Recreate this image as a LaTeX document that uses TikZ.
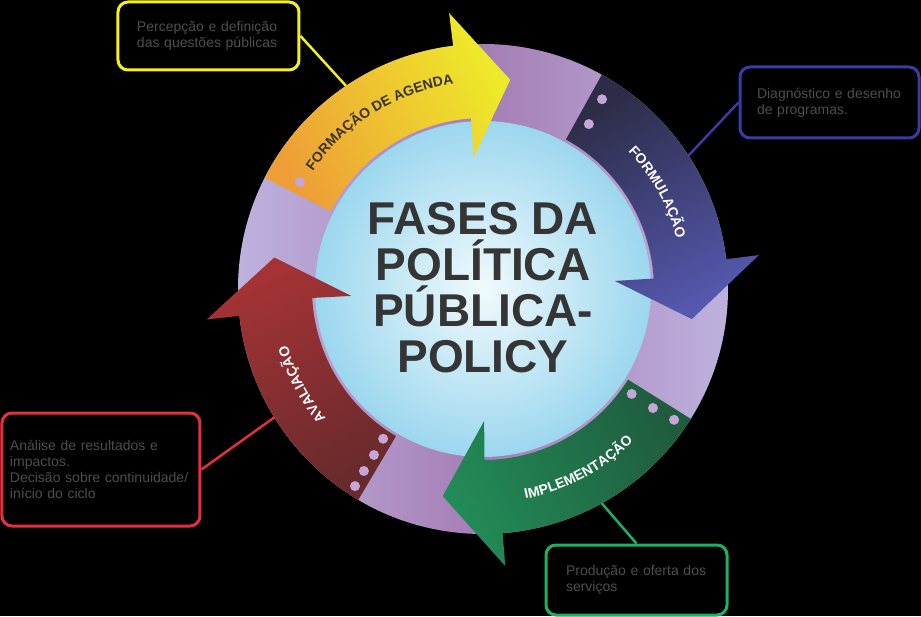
\documentclass[tikz,border=0pt]{standalone}
\usepackage{fontspec}
\setmainfont{Liberation Sans}
\usepackage{xcolor}
\usepackage{tikz}
\usetikzlibrary{shapes, arrows.meta, positioning, calc, decorations.text}
\definecolor{RingPurple}{HTML}{A57DB5}
\definecolor{RingLilac}{HTML}{BEB2DD}
\definecolor{SkyCore}{HTML}{F0FAFD}
\definecolor{SkyRim}{HTML}{9CD7EE}
\definecolor{AgendaOrange}{HTML}{EE9E36}
\definecolor{AgendaYellow}{HTML}{EEEA2A}
\definecolor{FormNavy}{HTML}{2C2C46}
\definecolor{FormBlue}{HTML}{5558AE}
\definecolor{ImplDark}{HTML}{1F5C3D}
\definecolor{ImplGreen}{HTML}{228B57}
\definecolor{AvalDark}{HTML}{682A2C}
\definecolor{AvalRed}{HTML}{A53335}
\definecolor{DotLilac}{HTML}{C6A6DA}
\definecolor{TitleGray}{HTML}{353535}
\definecolor{NoteGray}{HTML}{4E4E4E}
\definecolor{AgendaText}{HTML}{3A3322}
\definecolor{LineYellow}{HTML}{F2F01E}
\definecolor{LineBlue}{HTML}{3B3BA3}
\definecolor{LineRed}{HTML}{E3303C}
\definecolor{LineGreen}{HTML}{1DB262}
\newcommand{\arcfont}{\fontsize{14}{16}\selectfont\bfseries}
\newcommand{\calloutfont}{\fontsize{14}{16}\selectfont}

\begin{document}
\begin{tikzpicture}[x=1pt, y=1pt,
  callout/.style={draw=#1, line width=3pt, rounded corners=10pt, fill=black,
    text=NoteGray, font=\calloutfont, align=left},
  leader/.style={draw=#1, line width=2.5pt},
  arclabel/.style={decorate, decoration={text along path, text align=center, text={#1}}},
  title/.style={font={\fontsize{46}{46}\selectfont\bfseries}, text=TitleGray, align=center, inner sep=0pt}]
  % Background
  \useasboundingbox (-483,-327) rectangle (438,289);
  \fill[black] (-483,-327) rectangle (438,289);
  % Callout boxes
  \node[callout=LineYellow, minimum width=181pt, minimum height=68pt, inner xsep=19pt, text width=143pt]
    (agendabox) at (-274.5,253) {Percepção e definição\\das questões públicas};
  \node[callout=LineBlue, minimum width=179pt, minimum height=71pt, inner xsep=17pt, text width=145pt]
    (formbox) at (346.5,186.5) {Diagnóstico e desenho\\de programas.};
  \node[callout=LineRed, minimum width=198pt, minimum height=113pt, inner xsep=8pt, text width=182pt]
    (avalbox) at (-382,-180.5) {Análise de resultados e\\impactos.\\Decisão sobre continuidade/\\início do ciclo};
  \node[callout=LineGreen, minimum width=181pt, minimum height=70pt, inner xsep=20pt, text width=141pt]
    (implbox) at (153.5,-291) {Produção e oferta dos\\serviços};
  % Leader lines
  \coordinate (agendapt) at (124:245);
  \coordinate (formpt) at (33:245);
  \coordinate (avalpt) at (211.6:245);
  \coordinate (implpt) at (-61:245);
  \draw[leader=LineYellow] (agendabox.east) -- (agendapt);
  \draw[leader=LineBlue] (formbox.west) -- (formpt);
  \draw[leader=LineRed] (avalbox.east) -- (avalpt);
  \draw[leader=LineGreen] (implbox.north) -- (implpt);
  % Ring and centre disc
  \shade[left color=RingLilac, right color=RingLilac, middle color=RingPurple] (0,0) circle (245);
  \shade[inner color=SkyCore, outer color=SkyRim] (0,0) circle (168);
  % Phase arrows
  \foreach \ta/\bo/\bi/\tp/\cd/\cl/\sa in {
      153/97/94/82.6/AgendaOrange/AgendaYellow/-61.5,
      61/7/3.5/-8.2/FormNavy/FormBlue/-153.5,
      -32/-85.4/-89.5/-101/ImplDark/ImplGreen/114,
      239.4/186.3/183/171.4/AvalDark/AvalRed/26} {
    \shade[top color=\cl, bottom color=\cd, shading angle=\sa]
      (\ta:245) arc[start angle=\ta, end angle=\bo, radius=245]
      -- (\bo:278) -- (\tp:211) -- (\bi:132) -- (\bi:171)
      arc[start angle=\bi, end angle=\ta, radius=171] -- cycle;
  }
  % Dots at the arrow tails
  \foreach \a/\r in {149.7/212, 57.9/224, 57.3/196, -35.2/182, -35/207.5, -34.4/231.6,
      236.3/180, 236.7/198.6, 236.8/217.5, 237/235}
    \fill[DotLilac] (\a:\r) circle (5);
  % Arrow labels
  \path[arclabel={|\arcfont\color{AgendaText}|FORMAÇÃO DE AGENDA}]
    (166.7:207) arc[start angle=166.7, end angle=76.7, radius=207];
  \path[arclabel={|\arcfont\color{white}|FORMULAÇÃO}]
    (74:200) arc[start angle=74, end angle=-16, radius=200];
  \path[arclabel={|\arcfont\color{white}|IMPLEMENTAÇÃO}]
    (-107:214) arc[start angle=-107, end angle=-17, radius=214];
  \path[arclabel={|\arcfont\color{white}|AVALIAÇÃO}]
    (252.8:203.5) arc[start angle=252.8, end angle=162.8, radius=203.5];
  % Title
  \node[title] (phases) at (0,1.5) {FASES DA\\POLÍTICA\\PÚBLICA-\\POLICY};
\end{tikzpicture}
\end{document}
